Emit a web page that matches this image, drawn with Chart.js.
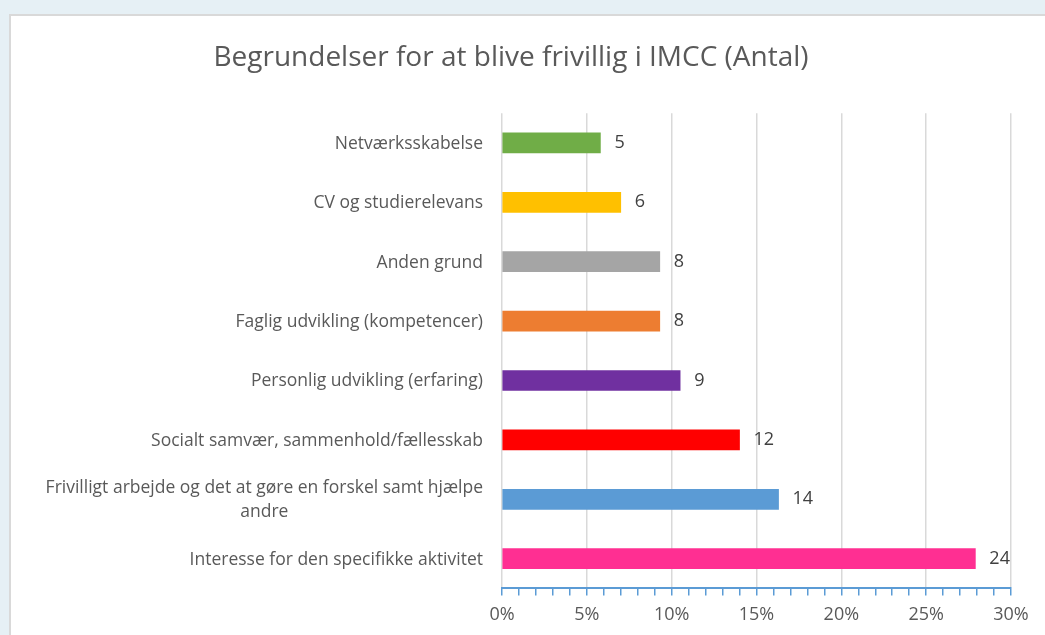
<!DOCTYPE html>
<html>
<head>
<meta charset="utf-8">
<script src="https://cdn.jsdelivr.net/npm/chart.js@4"></script>
<style>
  html, body { margin: 0; padding: 0; }
  body {
    width: 1045px; height: 635px; overflow: hidden; position: relative;
    background: #e6f0f5;
  }
  #panel {
    position: absolute; left: 9px; top: 14px; width: 1040px; height: 625px;
    background: #fff; border-top: 2px solid #d9d9d9; border-left: 2px solid #d9d9d9;
  }
  #wrap { position: absolute; left: 0; top: 0; width: 1034px; height: 619px; }
</style>
</head>
<body>
<div id="panel"><div id="wrap"><canvas id="reasons"></canvas></div></div>
<script>
const categories = [
    "Netværksskabelse",
    "CV og studierelevans",
    "Anden grund",
    "Faglig udvikling (kompetencer)",
    "Personlig udvikling (erfaring)",
    "Socialt samvær, sammenhold/fællesskab",
    ["Frivilligt arbejde og det at gøre en forskel samt hjælpe", "andre"],
    "Interesse for den specifikke aktivitet"
];
const counts = [5, 6, 8, 8, 9, 12, 14, 24];
const shares = [5.8, 7.0, 9.3, 9.3, 10.5, 14.0, 16.3, 27.9];
const barColors = ["#70ad47", "#ffc000", "#a5a5a5", "#ed7d31", "#7030a0", "#ff0000", "#5b9bd5", "#ff2f92"];
const xTicks = [0, 5, 10, 15, 20, 25, 30];

const font = "'Open Sans', 'DejaVu Sans', sans-serif";

// tal efter hver bjælke + kategorinavne (centreret blok, højrestillet mod aksen)
const labelsPlugin = {
    id: 'labels',
    afterDatasetsDraw(chart) {
        const ctx = chart.ctx;
        const meta = chart.getDatasetMeta(0);
        ctx.save();
        ctx.fillStyle = '#404040';
        ctx.font = '18px ' + font;
        ctx.textAlign = 'left';
        ctx.textBaseline = 'middle';
        meta.data.forEach((bar, i) => {
            ctx.fillText(counts[i], bar.x + 14, bar.y);
        });

        const yScale = chart.scales.y;
        ctx.font = '17.5px ' + font;
        ctx.fillStyle = '#595959';
        ctx.textAlign = 'center';
        const right = yScale.right - 19;
        categories.forEach((c, i) => {
            const lines = Array.isArray(c) ? c : [c];
            const w = Math.max(...lines.map(l => ctx.measureText(l).width));
            const cy = yScale.getPixelForValue(i) + 1;
            const lh = 24;
            lines.forEach((l, j) => {
                ctx.fillText(l, right - w / 2, cy + (j - (lines.length - 1) / 2) * lh);
            });
        });
        ctx.restore();
    }
};

new Chart(document.getElementById("reasons"), {
    type: 'bar',
    data: {
        labels: categories,
        datasets: [{
            data: shares,
            backgroundColor: barColors,
            borderWidth: 0,
            barThickness: 20
        }]
    },
    options: {
        indexAxis: 'y',
        responsive: true,
        maintainAspectRatio: false,
        animation: false,
        layout: { padding: { left: 0, right: 34, top: 0, bottom: 0 } },
        plugins: {
            legend: { display: false },
            tooltip: { enabled: false },
            title: {
                display: true,
                text: 'Begrundelser for at blive frivillig i IMCC (Antal)',
                color: '#595959',
                font: { family: font, size: 28, weight: 'normal' },
                padding: { top: 25.2, bottom: 38.4 }
            }
        },
        scales: {
            x: {
                min: 0,
                max: 30,
                ticks: {
                    stepSize: 1,
                    autoSkip: false,
                    maxRotation: 0,
                    padding: 9,
                    color: '#595959',
                    font: { family: font, size: 18 },
                    callback: v => xTicks.includes(v) ? v + '%' : ''
                },
                grid: {
                    color: c => (c.tick && xTicks.includes(c.tick.value)) ? '#d9d9d9' : 'rgba(0,0,0,0)',
                    tickColor: '#5b9bd5',
                    tickLength: 7,
                    lineWidth: 1.5
                },
                border: { display: true, color: '#5b9bd5', width: 2 }
            },
            y: {
                ticks: { display: true, callback: () => '' },
                grid: { display: false, drawTicks: false },
                border: { display: false },
                afterFit(scale) { scale.width = 491; }
            }
        }
    },
    plugins: [labelsPlugin]
});
</script>
</body>
</html>
